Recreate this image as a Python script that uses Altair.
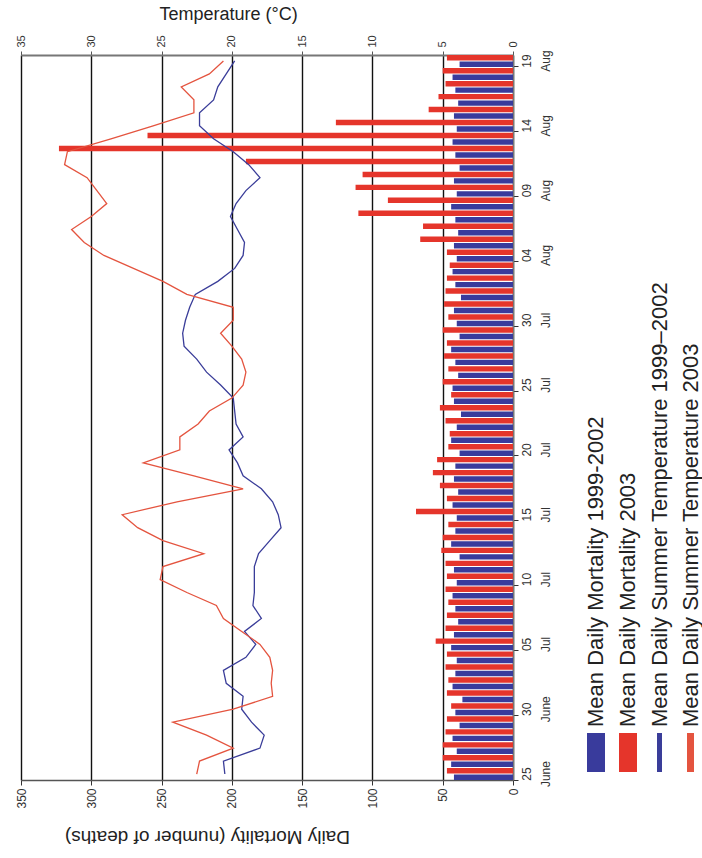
import altair as alt
import pandas as pd

# ---- data (day index 0 = 25 June 2003 ... 55 = 19 Aug 2003) ----
days = list(range(56))

mort_1999_2002 = [42, 44, 40, 43, 38, 41, 36, 43, 41, 40, 44, 42, 39, 41, 43, 40,
                  42, 38, 44, 41, 40, 43, 39, 42, 41, 38, 44, 40, 37, 42, 43, 39,
                  41, 44, 38, 40, 42, 37, 41, 43, 40, 42, 39, 41, 44, 40, 42, 38,
                  41, 43, 40, 42, 39, 41, 43, 38]

mort_2003 = [47, 50, 50, 48, 47, 44, 47, 46, 48, 47, 55, 48, 47, 46, 48, 47,
             48, 51, 50, 46, 69, 47, 52, 57, 54, 46, 45, 48, 52, 44, 50, 46,
             49, 47, 50, 46, 49, 48, 47, 45, 47, 66, 64, 110, 89, 112, 107, 190,
             323, 260, 126, 60, 53, 48, 50, 47]

temp_1999_2002 = [20.5, 20.6, 18.0, 17.7, 18.6, 19.3, 19.2, 20.4, 20.6, 19.0, 18.3, 19.1,
                  17.9, 18.5, 18.4, 18.4, 18.4, 18.1, 17.3, 16.5, 16.7, 17.1, 17.9, 19.2,
                  19.6, 20.2, 19.2, 19.7, 19.8, 19.9, 20.8, 21.8, 22.5, 23.4, 23.5, 23.3,
                  23.0, 22.6, 21.0, 19.8, 19.2, 19.1, 19.6, 20.1, 19.7, 19.0, 18.0, 18.8,
                  19.9, 21.3, 22.3, 22.3, 21.3, 21.0, 20.4, 19.8]

temp_2003 = [22.5, 22.3, 19.9, 21.8, 24.2, 19.9, 17.1, 17.2, 17.1, 17.3, 18.0, 19.3,
             20.6, 21.1, 23.2, 25.1, 24.9, 22.0, 24.9, 26.7, 27.8, 23.9, 19.2, 22.7,
             26.3, 23.7, 23.7, 22.4, 21.6, 20.0, 19.2, 19.0, 19.3, 20.0, 20.8, 19.9,
             19.9, 23.2, 24.9, 27.0, 29.1, 30.5, 31.4, 30.0, 28.9, 29.6, 30.3, 31.9,
             31.7, 28.6, 25.6, 22.7, 22.7, 23.6, 21.6, 20.6]

tick_days = [0, 5, 10, 15, 20, 25, 30, 35, 40, 45, 50, 55]
tick_num = ["25", "30", "05", "10", "15", "20", "25", "30", "04", "09", "14", "19"]
tick_month = ["June", "June", "Jul", "Jul", "Jul", "Jul", "Jul", "Jul", "Aug", "Aug", "Aug", "Aug"]

mort_ticks = [0, 50, 100, 150, 200, 250, 300, 350]
temp_ticks = [0, 5, 10, 15, 20, 25, 30, 35]

bar_series = ["Mean Daily Mortality 1999-2002", "Mean Daily Mortality 2003"]
line_series = ["Mean Daily Summer Temperature 1999\u20132002", "Mean Daily Summer Temperature 2003"]
bar_colors = ["#393b9c", "#e5352b"]
line_colors = ["#3a3d99", "#e4543f"]

# ---- tables ----
bars_df = pd.DataFrame({
    "k": days + days,
    "series": [bar_series[0]] * 56 + [bar_series[1]] * 56,
    "value": mort_1999_2002 + mort_2003,
})
lines_df = pd.DataFrame({
    "k": days + days,
    "series": [line_series[0]] * 56 + [line_series[1]] * 56,
    "temp": temp_1999_2002 + temp_2003,
})

expr = " : ".join(
    f"datum.value == {d} ? ['{n}', '{m}']" for d, n, m in zip(tick_days, tick_num, tick_month)
) + " : ''"

FONT = "Liberation Sans"

date_axis = alt.Axis(
    orient="right", values=tick_days, labelExpr=expr, labelAngle=270,
    labelAlign="center", labelBaseline="top", labelFontSize=12, labelLineHeight=19,
    bandPosition=1, tickSize=5, labelPadding=3, domainColor="#777", domainWidth=1.5,
    tickColor="#333", grid=False, title=None, labelFont=FONT, labelColor="#333",
)

y_scale = alt.Scale(paddingInner=0.08, paddingOuter=0)

bars = alt.Chart(bars_df).mark_bar().encode(
    y=alt.Y("k:O", sort="descending", scale=y_scale, axis=date_axis),
    yOffset=alt.YOffset("series:N", sort=[bar_series[1], bar_series[0]],
                        scale=alt.Scale(paddingInner=0.16, paddingOuter=0)),
    x=alt.X("value:Q", scale=alt.Scale(domain=[0, 350], reverse=True, nice=False),
            axis=alt.Axis(
                orient="bottom", values=mort_ticks, grid=True, gridColor="#111",
                gridWidth=1.4, labelAngle=270, labelAlign="right", labelBaseline="middle",
                labelFontSize=12, labelPadding=3, tickSize=5, tickColor="#333",
                domainColor="#555", domainWidth=1.5, labelFont=FONT, labelColor="#333",
                title="Daily Mortality (number of deaths)", titleAngle=180, titleX=186,
                titleY=56, titleAlign="center", titleBaseline="middle", titleFontSize=19,
                titleFontWeight="normal", titleFont=FONT, titleColor="#222")),
    color=alt.Color("series:N", scale=alt.Scale(domain=bar_series, range=bar_colors), legend=None),
)

lines = alt.Chart(lines_df).mark_line(strokeWidth=1.3).encode(
    y=alt.Y("k:O", sort="descending", scale=y_scale),
    x=alt.X("temp:Q", scale=alt.Scale(domain=[0, 35], reverse=True, nice=False),
            axis=alt.Axis(
                orient="top", values=temp_ticks, grid=False, labelAngle=270,
                labelAlign="left", labelBaseline="middle", labelFontSize=11,
                labelPadding=4, tickSize=4, tickColor="#555", domainColor="#777",
                domainWidth=2, labelFont=FONT, labelColor="#333",
                title="Temperature (\u00b0C)", titleAngle=0, titleX=207, titleY=-41,
                titleAlign="center", titleBaseline="middle", titleFontSize=18,
                titleFontWeight="normal", titleFont=FONT, titleColor="#222")),
    color=alt.Color("series:N", scale=alt.Scale(domain=line_series, range=line_colors), legend=None),
)

# ---- hand-built rotated legend ----
legend_labels = bar_series + line_series
legend_colors = bar_colors + line_colors
sw_x = [(566, 584), (598, 616), (636, 641), (666, 673)]
txt_x = [575, 607, 639, 670]
one = pd.DataFrame({"a": [0]})
legend_layers = []
for lab, col, (x0, x1), tx in zip(legend_labels, legend_colors, sw_x, txt_x):
    legend_layers.append(
        alt.Chart(one).mark_rect(color=col).encode(
            x=alt.value(x0), x2=alt.value(x1), y=alt.value(678), y2=alt.value(717))
    )
    legend_layers.append(
        alt.Chart(one).mark_text(angle=270, align="left", baseline="middle",
                                 fontSize=22, font=FONT, color="#222").encode(
            x=alt.value(tx), y=alt.value(672), text=alt.value(lab))
    )

chart = alt.layer(bars, lines, *legend_layers).resolve_scale(
    x="independent", color="independent"
).properties(
    width=492, height=725,
    autosize=alt.AutoSizeParams(type="none"),
    padding={"left": 21, "top": 55, "right": 189, "bottom": 78},
).configure_view(strokeWidth=0).configure(background="white")

chart.save("out.html", embed_options={"renderer": "svg", "actions": False})
